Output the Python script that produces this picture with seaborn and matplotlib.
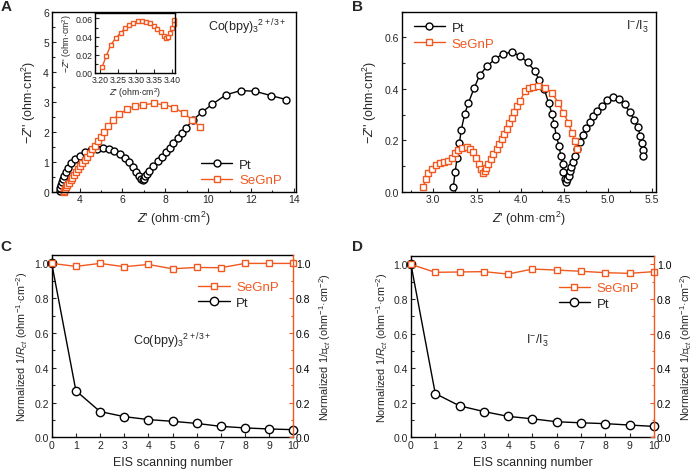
import numpy as np
import seaborn as sns
import matplotlib.pyplot as plt
from matplotlib.ticker import MultipleLocator, FormatStrFormatter

# ---------------- STYLE ----------------
sns.set_theme(style="ticks")
plt.rcParams["font.family"] = ["Liberation Sans", "DejaVu Sans"]
plt.rcParams["mathtext.fontset"] = "custom"
plt.rcParams["mathtext.rm"] = "Liberation Sans"
plt.rcParams["mathtext.it"] = "Liberation Sans:italic"
plt.rcParams["mathtext.bf"] = "Liberation Sans:bold"
plt.rcParams["xtick.direction"] = "in"
plt.rcParams["ytick.direction"] = "in"
plt.rcParams["axes.linewidth"] = 1.0

ORANGE = "#F0581F"
BLACK = "black"

# ---------------- DATA ----------------
# Panel A: Co(bpy)3 Nyquist
pt_a_x = [3.08, 3.10, 3.13, 3.17, 3.22, 3.28, 3.36, 3.47, 3.62, 3.80, 4.02, 4.27,
          4.54, 4.80, 5.07, 5.35, 5.62, 5.88, 6.10, 6.30, 6.48, 6.64, 6.78, 6.88,
          6.95, 6.99, 7.06, 7.15, 7.26, 7.44, 7.65, 7.83, 8.03, 8.22, 8.37, 8.59,
          8.78, 8.95, 9.30, 9.71, 10.20, 10.83, 11.52, 12.17, 12.95, 13.65]
pt_a_y = [0.02, 0.12, 0.22, 0.32, 0.43, 0.54, 0.66, 0.80, 0.95, 1.08, 1.20, 1.31,
          1.39, 1.44, 1.46, 1.43, 1.36, 1.26, 1.13, 0.98, 0.82, 0.66, 0.52, 0.43,
          0.40, 0.44, 0.53, 0.60, 0.70, 0.87, 1.01, 1.17, 1.31, 1.46, 1.61, 1.78,
          1.95, 2.11, 2.40, 2.65, 2.92, 3.23, 3.37, 3.35, 3.20, 3.07]
se_a_x = [3.25, 3.28, 3.32, 3.37, 3.43, 3.50, 3.58, 3.66, 3.75, 3.84, 3.93, 4.03,
          4.13, 4.24, 4.35, 4.47, 4.59, 4.72, 4.86, 5.00, 5.15, 5.33, 5.55, 5.85,
          6.20, 6.58, 6.97, 7.45, 7.95, 8.42, 8.85, 9.26, 9.60]
se_a_y = [0.00, 0.04, 0.09, 0.15, 0.22, 0.30, 0.38, 0.47, 0.56, 0.65, 0.75, 0.85,
          0.95, 1.06, 1.17, 1.29, 1.41, 1.54, 1.68, 1.83, 2.00, 2.20, 2.40, 2.58,
          2.74, 2.85, 2.90, 2.94, 2.90, 2.80, 2.62, 2.40, 2.17]

# Inset of panel A (SeGnP, high frequency)
inset_x = [3.206, 3.217, 3.230, 3.245, 3.257, 3.269, 3.281, 3.292, 3.304, 3.316,
           3.327, 3.338, 3.349, 3.359, 3.368, 3.377, 3.384, 3.389, 3.394, 3.399,
           3.404, 3.406]
inset_y = [0.0069, 0.0183, 0.031, 0.039, 0.044, 0.049, 0.0527, 0.0552, 0.057, 0.057,
           0.0563, 0.0545, 0.052, 0.0486, 0.0453, 0.041, 0.039, 0.040, 0.044, 0.049,
           0.054, 0.0585]

# Panel B: I-/I3- Nyquist
pt_b_x = [3.23, 3.25, 3.275, 3.30, 3.32, 3.36, 3.40, 3.47, 3.53, 3.62, 3.71, 3.80,
          3.90, 3.99, 4.08, 4.16, 4.21, 4.27, 4.32, 4.36, 4.385, 4.41, 4.44, 4.46,
          4.48, 4.49, 4.505, 4.515, 4.53, 4.55, 4.565, 4.58, 4.60, 4.62, 4.65, 4.68,
          4.71, 4.75, 4.79, 4.83, 4.88, 4.93, 4.99, 5.06, 5.13, 5.19, 5.25, 5.30,
          5.34, 5.37, 5.39, 5.40, 5.40]
pt_b_y = [0.017, 0.075, 0.133, 0.188, 0.239, 0.301, 0.343, 0.404, 0.452, 0.490, 0.516, 0.537,
          0.542, 0.529, 0.503, 0.471, 0.436, 0.400, 0.346, 0.301, 0.262, 0.215, 0.178, 0.139,
          0.107, 0.075, 0.050, 0.036, 0.048, 0.062, 0.080, 0.098, 0.117, 0.140, 0.165, 0.192,
          0.220, 0.248, 0.273, 0.295, 0.315, 0.335, 0.355, 0.368, 0.360, 0.340, 0.310, 0.280,
          0.250, 0.218, 0.190, 0.163, 0.137]
se_b_x = [2.886, 2.916, 2.943, 2.982, 3.031, 3.077, 3.126, 3.172, 3.210, 3.249, 3.287,
          3.333, 3.383, 3.420, 3.458, 3.489, 3.523, 3.546, 3.573, 3.590, 3.604, 3.630,
          3.657, 3.687, 3.726, 3.756, 3.784, 3.813, 3.841, 3.870, 3.900, 3.930, 3.960,
          3.993, 4.050, 4.100, 4.145, 4.203, 4.280, 4.356, 4.432, 4.489, 4.546, 4.585,
          4.623, 4.643]
se_b_y = [0.017, 0.049, 0.071, 0.088, 0.103, 0.110, 0.114, 0.120, 0.133, 0.149, 0.161,
          0.169, 0.172, 0.165, 0.153, 0.133, 0.107, 0.088, 0.072, 0.082, 0.092, 0.107,
          0.127, 0.146, 0.165, 0.185, 0.204, 0.223, 0.243, 0.266, 0.288, 0.310, 0.333,
          0.352, 0.391, 0.403, 0.408, 0.410, 0.404, 0.385, 0.346, 0.307, 0.269, 0.230,
          0.197, 0.165]

# Panels C and D: stability over EIS scans
scan_no = [0, 1, 2, 3, 4, 5, 6, 7, 8, 9, 10]
se_c = [1.0, 0.983, 1.0, 0.981, 0.994, 0.969, 0.977, 0.975, 1.0, 1.0, 1.0]
pt_c = [1.0, 0.268, 0.148, 0.119, 0.102, 0.092, 0.080, 0.063, 0.054, 0.048, 0.044]
se_d = [1.0, 0.954, 0.956, 0.958, 0.944, 0.973, 0.967, 0.960, 0.952, 0.948, 0.958]
pt_d = [1.0, 0.253, 0.182, 0.149, 0.121, 0.107, 0.090, 0.084, 0.079, 0.071, 0.063]

TICK = 7.5
LAB = 9

def style_axis(ax, size=TICK):
    ax.tick_params(which="both", direction="in", labelsize=size, pad=2)
    ax.tick_params(which="major", length=3, width=0.8)
    ax.tick_params(which="minor", length=1.8, width=0.8)
    for s in ax.spines.values():
        s.set_linewidth(1.0)
        s.set_color("black")

def nyq(ax, x, y, color, marker, ms, label):
    sns.lineplot(x=x, y=y, sort=False, estimator=None, ax=ax, color=color,
                 marker=marker, markersize=ms, markerfacecolor="white",
                 markeredgecolor=color, markeredgewidth=1.0, linewidth=1.0,
                 label=label, legend=False, clip_on=False)

fig = plt.figure(figsize=(7, 4.77), dpi=100)

# ---------------- PANEL A ----------------
axA = fig.add_axes([0.0739, 0.596, 0.349, 0.3774])
nyq(axA, pt_a_x, pt_a_y, BLACK, "o", 5, "Pt")
nyq(axA, se_a_x, se_a_y, ORANGE, "s", 4.3, "SeGnP")
axA.set_xlim(2.7, 14.1)
axA.set_ylim(0, 6)
axA.xaxis.set_major_locator(MultipleLocator(2))
axA.xaxis.set_minor_locator(MultipleLocator(1))
axA.yaxis.set_major_locator(MultipleLocator(1))
axA.yaxis.set_minor_locator(MultipleLocator(0.5))
style_axis(axA)
axA.set_xlabel("$Z$' (ohm·cm$^2$)", fontsize=LAB, labelpad=3)
axA.set_ylabel("−$Z$'' (ohm·cm$^2$)", fontsize=LAB, labelpad=4)
axA.text(0.96, 0.92, "Co(bpy)$_3$$^{2+/3+}$", transform=axA.transAxes,
         ha="right", va="center", fontsize=LAB)
legA = axA.legend(loc="lower right", bbox_to_anchor=(0.99, -0.035), frameon=False,
                  fontsize=9.5, handlelength=2.4, handletextpad=0.5, labelspacing=0.25)
legA.get_texts()[1].set_color(ORANGE)

# inset
axI = fig.add_axes([0.1357, 0.8449, 0.1143, 0.1258])
nyq(axI, inset_x, inset_y, ORANGE, "s", 3.3, "SeGnP")
axI.set_xlim(3.186, 3.408)
axI.set_ylim(0, 0.066)
axI.xaxis.set_major_locator(MultipleLocator(0.05))
axI.xaxis.set_major_formatter(FormatStrFormatter("%.2f"))
axI.yaxis.set_major_locator(MultipleLocator(0.02))
axI.yaxis.set_minor_locator(MultipleLocator(0.01))
axI.yaxis.set_major_formatter(FormatStrFormatter("%.2f"))
style_axis(axI, size=6.3)
axI.tick_params(which="both", pad=1.5)
axI.set_xlabel("$Z$' (ohm·cm$^2$)", fontsize=6.3, labelpad=1)
axI.set_ylabel("−$Z$'' (ohm·cm$^2$)", fontsize=6.3, labelpad=1)

# ---------------- PANEL B ----------------
axB = fig.add_axes([0.5739, 0.596, 0.3633, 0.3774])
nyq(axB, pt_b_x, pt_b_y, BLACK, "o", 5, "Pt")
nyq(axB, se_b_x, se_b_y, ORANGE, "s", 4.3, "SeGnP")
axB.set_xlim(2.64, 5.55)
axB.set_ylim(0, 0.7)
axB.xaxis.set_major_locator(MultipleLocator(0.5))
axB.xaxis.set_minor_locator(MultipleLocator(0.25))
axB.xaxis.set_major_formatter(FormatStrFormatter("%.1f"))
axB.yaxis.set_major_locator(MultipleLocator(0.2))
axB.yaxis.set_minor_locator(MultipleLocator(0.1))
axB.yaxis.set_major_formatter(FormatStrFormatter("%.1f"))
style_axis(axB)
axB.set_xlabel("$Z$' (ohm·cm$^2$)", fontsize=LAB, labelpad=3)
axB.set_ylabel("−$Z$'' (ohm·cm$^2$)", fontsize=LAB, labelpad=4)
axB.text(0.97, 0.92, "I$^{-}$/I$_3^{-}$", transform=axB.transAxes,
         ha="right", va="center", fontsize=LAB)
legB = axB.legend(loc="upper left", bbox_to_anchor=(0.0, 1.01), frameon=False,
                  fontsize=9.5, handlelength=2.4, handletextpad=0.5, labelspacing=0.25)
legB.get_texts()[1].set_color(ORANGE)

# ---------------- PANELS C & D ----------------
def stab_panel(rect, pt, se, label_text, text_xy):
    ax = fig.add_axes(rect)
    ax2 = ax.twinx()
    sns.lineplot(x=scan_no, y=pt, ax=ax, color=BLACK, marker="o", markersize=6,
                 markerfacecolor="white", markeredgecolor=BLACK, markeredgewidth=1.0,
                 linewidth=1.0, label="Pt", legend=False, clip_on=False, zorder=3)
    sns.lineplot(x=scan_no, y=se, ax=ax2, color=ORANGE, marker="s", markersize=4.5,
                 markerfacecolor="white", markeredgecolor=ORANGE, markeredgewidth=1.0,
                 linewidth=1.0, label="SeGnP", legend=False, clip_on=False)
    for a in (ax, ax2):
        a.set_xlim(0, 10)
        a.set_ylim(0, 1.05)
        a.yaxis.set_major_locator(MultipleLocator(0.2))
        a.yaxis.set_minor_locator(MultipleLocator(0.1))
        a.yaxis.set_major_formatter(FormatStrFormatter("%.1f"))
    ax.xaxis.set_major_locator(MultipleLocator(1))
    style_axis(ax)
    style_axis(ax2)
    ax.spines["right"].set_visible(False)
    for side in ("top", "left", "bottom"):
        ax2.spines[side].set_visible(False)
    ax2.spines["right"].set_color(ORANGE)
    ax2.tick_params(axis="y", which="both", colors=ORANGE, labelcolor="black")
    ax.set_xlabel("EIS scanning number", fontsize=LAB, labelpad=4)
    ax.set_ylabel("Normalized 1/$R_{ct}$ (ohm$^{-1}$·cm$^{-2}$)", fontsize=7.8, labelpad=3)
    ax2.set_ylabel("Normalized 1/ℜ$_{ct}$ (ohm$^{-1}$·cm$^{-2}$)", fontsize=7.8, labelpad=5)
    ax.text(text_xy[0], text_xy[1], label_text, transform=ax.transAxes,
            ha="center", va="center", fontsize=LAB)
    h1 = ax2.get_lines()[0]
    h2 = ax.get_lines()[0]
    leg = ax2.legend(handles=[h1, h2], labels=["SeGnP", "Pt"], loc="upper right",
                     bbox_to_anchor=(0.99, 0.92), frameon=False, fontsize=9.5,
                     handlelength=2.4, handletextpad=0.5, labelspacing=0.25)
    leg.get_texts()[0].set_color(ORANGE)
    return ax

stab_panel([0.0739, 0.0811, 0.3451, 0.3828], pt_c, se_c,
           "Co(bpy)$_3$$^{2+/3+}$", (0.5, 0.53))
stab_panel([0.5871, 0.0811, 0.3471, 0.3807], pt_d, se_d,
           "I$^{-}$/I$_3^{-}$", (0.52, 0.54))

# panel letters
for lab, x, y in [("A", 0.001, 0.999), ("B", 0.503, 0.999),
                  ("C", 0.001, 0.497), ("D", 0.503, 0.497)]:
    fig.text(x, y, lab, ha="left", va="top", fontsize=11, weight="bold")

fig.savefig("out.png", dpi=100)
